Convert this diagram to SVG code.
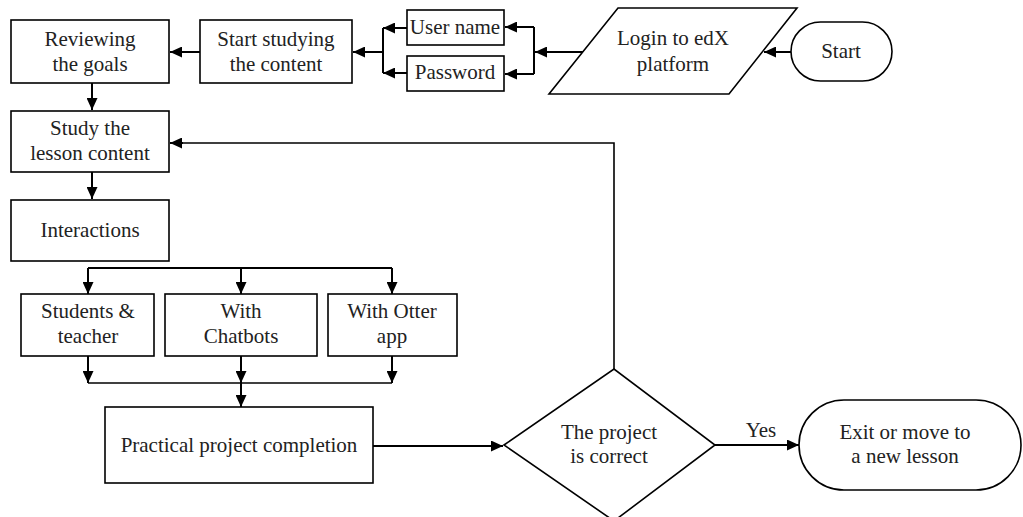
<svg xmlns="http://www.w3.org/2000/svg" width="1023" height="517" viewBox="0 0 1023 517">
<defs>
<marker id="ah" markerWidth="12" markerHeight="11" refX="12" refY="5.5" orient="auto" markerUnits="userSpaceOnUse">
<path d="M0,0 L12,5.5 L0,11 Z" fill="#000"/>
</marker>
<style>
.box{fill:#fff;stroke:#000;stroke-width:1.6}
.t{font-family:"Liberation Serif","DejaVu Serif",serif;font-size:21px;fill:#222;text-anchor:middle}
.c{fill:none;stroke:#000;stroke-width:2}
.ca{fill:none;stroke:#000;stroke-width:2;marker-end:url(#ah)}
.thin{fill:none;stroke:#000;stroke-width:1.6}
</style>
</defs>
<rect width="1023" height="517" fill="#fff"/>

<g id="connectors">
<line class="ca" x1="791" y1="52" x2="764" y2="52"/>
<line class="ca" x1="583" y1="52" x2="535" y2="52"/>
<polyline class="c" points="534,27 534,74"/>
<line class="ca" x1="534" y1="27" x2="505" y2="27"/>
<line class="ca" x1="534" y1="74" x2="505" y2="74"/>
<line class="ca" x1="407" y1="28" x2="383" y2="28"/>
<line class="ca" x1="407" y1="73" x2="383" y2="73"/>
<polyline class="c" points="383,28 383,73"/>
<line class="ca" x1="383" y1="52" x2="353" y2="52"/>
<line class="ca" x1="200" y1="52" x2="170" y2="52"/>
<line class="ca" x1="92" y1="83" x2="92" y2="110"/>
<line class="ca" x1="92" y1="172" x2="92" y2="199"/>
<polyline class="thin" points="614,369 614,143 183,143"/>
<line class="ca" x1="183" y1="143" x2="170" y2="143"/>
<polyline class="c" points="88,268 392,268"/>
<line class="ca" x1="88" y1="268" x2="88" y2="294"/>
<line class="ca" x1="241" y1="268" x2="241" y2="294"/>
<line class="ca" x1="392" y1="268" x2="392" y2="294"/>
<line class="ca" x1="88" y1="356" x2="88" y2="383"/>
<line class="ca" x1="241" y1="356" x2="241" y2="383"/>
<line class="ca" x1="392" y1="356" x2="392" y2="383"/>
<polyline class="thin" points="88,383 392,383"/>
<line class="ca" x1="241" y1="383" x2="241" y2="407"/>
<line class="ca" x1="373" y1="446" x2="503" y2="446"/>
<line class="ca" x1="715" y1="445" x2="799" y2="445"/>
<text class="t" x="761" y="437">Yes</text>
</g>

<g id="start">
<rect class="box" x="791" y="22" width="101" height="59" rx="29.5"/>
<text class="t" x="841" y="58">Start</text>
</g>
<g id="login">
<polygon class="box" points="618,8 797,8 729,94 549,94"/>
<text class="t" x="673" y="45">Login to edX</text>
<text class="t" x="673" y="71">platform</text>
</g>
<g id="username">
<rect class="box" x="407" y="10" width="97" height="35"/>
<text class="t" x="455" y="34">User name</text>
</g>
<g id="password">
<rect class="box" x="407" y="56" width="97" height="35"/>
<text class="t" x="455" y="79">Password</text>
</g>
<g id="startstudy">
<rect class="box" x="200" y="20" width="152" height="63"/>
<text class="t" x="276" y="46">Start studying</text>
<text class="t" x="276" y="71">the content</text>
</g>
<g id="reviewing">
<rect class="box" x="11" y="20" width="158" height="63"/>
<text class="t" x="90" y="46">Reviewing</text>
<text class="t" x="90" y="71">the goals</text>
</g>
<g id="studylesson">
<rect class="box" x="11" y="111" width="158" height="61"/>
<text class="t" x="90" y="135">Study the</text>
<text class="t" x="90" y="160">lesson content</text>
</g>
<g id="interactions">
<rect class="box" x="11" y="200" width="158" height="61"/>
<text class="t" x="90" y="237">Interactions</text>
</g>
<g id="students">
<rect class="box" x="21" y="294" width="133" height="62"/>
<text class="t" x="88" y="318">Students &amp;</text>
<text class="t" x="88" y="343">teacher</text>
</g>
<g id="chatbots">
<rect class="box" x="165" y="294" width="152" height="62"/>
<text class="t" x="241" y="318">With</text>
<text class="t" x="241" y="343">Chatbots</text>
</g>
<g id="otter">
<rect class="box" x="328" y="294" width="129" height="62"/>
<text class="t" x="392" y="318">With Otter</text>
<text class="t" x="392" y="343">app</text>
</g>
<g id="practical">
<rect class="box" x="105" y="407" width="268" height="76"/>
<text class="t" x="239" y="452">Practical project completion</text>
</g>
<g id="decision">
<polygon class="box" points="504,445 614,369 715,445 614,521"/>
<text class="t" x="609" y="439">The project</text>
<text class="t" x="609" y="463">is correct</text>
</g>
<g id="exit">
<rect class="box" x="799" y="400" width="222" height="90" rx="45"/>
<text class="t" x="905" y="439">Exit or move to</text>
<text class="t" x="905" y="463">a new lesson</text>
</g>
</svg>
